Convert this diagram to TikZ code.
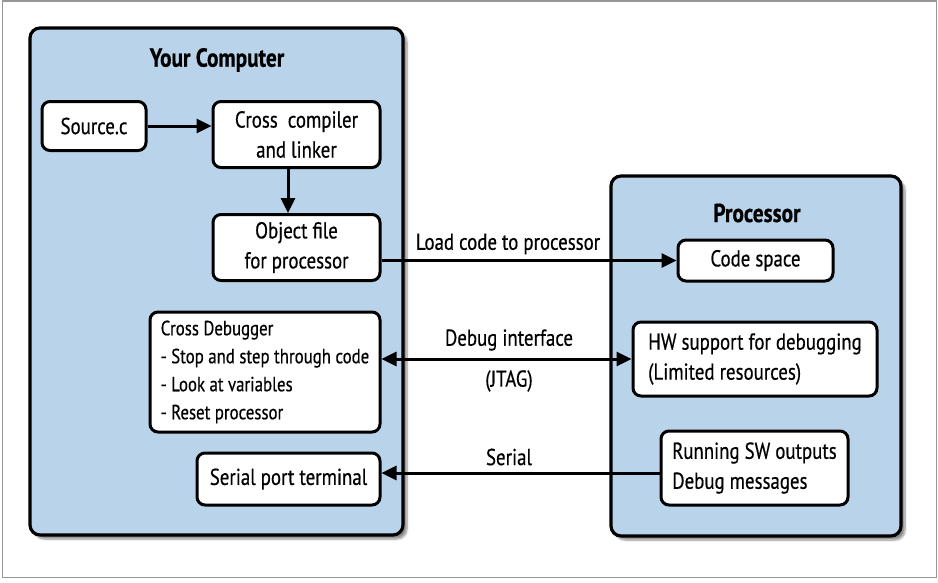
\documentclass[tikz,border=0pt]{standalone}
\usepackage{fontspec}
\setmainfont{PT Sans}[FakeStretch=0.82,FakeBold=0.5]
\usetikzlibrary{arrows.meta,shadows.blur}
\definecolor{panelblue}{RGB}{185,212,234}
\definecolor{framegray}{RGB}{150,150,150}
\begin{document}
\begin{tikzpicture}[x=1pt,y=-1pt,
  font=\fontsize{23}{30}\selectfont,
  panel/.style={draw=black,line width=3.2pt,rounded corners=10pt,fill=panelblue,
    blur shadow={shadow xshift=4pt,shadow yshift=-4pt,shadow blur steps=8,shadow opacity=45}},
  box/.style={draw=black,line width=3pt,rounded corners=8pt,fill=white,inner sep=0pt,align=center},
  arr/.style={line width=3pt,-{Triangle[length=15pt,width=14pt]}},
  darr/.style={line width=3pt,{Triangle[length=15pt,width=14pt]}-{Triangle[length=15pt,width=14pt]}},
  title/.style={font=\fontsize{26}{30}\selectfont\bfseries},
  lbl/.style={inner sep=0pt}]
\useasboundingbox (0,0) rectangle (938,582);
\draw[framegray,line width=1.2pt] (2.5,1) rectangle (936.5,577.5);

% panels
\node[panel,minimum width=373pt,minimum height=507pt] (left) at (216.5,281.5) {};
\node[panel,minimum width=290pt,minimum height=360pt] (right) at (756,356) {};

\node[title] (ytitle) at (217,60) {Your Computer};
\node[title] (ptitle) at (757,213) {Processor};

% left boxes
\node[box,minimum width=104pt,minimum height=49pt] (source) at (94,126) {Source.c};
\node[box,minimum width=167pt,minimum height=66pt] (cross) at (296.5,134.5) {Cross\ \ compiler\\and linker};
\node[box,minimum width=167pt,minimum height=66pt] (obj) at (296.5,247.5) {Object file\\for processor};
\node[box,minimum width=230pt,minimum height=120pt,align=left,font=\fontsize{20.5}{28}\selectfont] (dbg) at (265,372) {Cross Debugger\\- Stop and step through code\\- Look at variables\\- Reset processor};
\node[box,minimum width=183pt,minimum height=52pt] (serial) at (288.5,479) {Serial port terminal};

% right boxes
\node[box,minimum width=155pt,minimum height=41pt] (code) at (755.5,260.5) {Code space};
\node[box,minimum width=244pt,minimum height=74pt,align=left] (hw) at (755,359) {HW support for debugging\\(Limited resources)};
\node[box,minimum width=187pt,minimum height=74pt,align=left] (run) at (754.5,468) {Running SW outputs\\Debug messages};

% connectors
\draw[arr] (source.east |- 0,126) -- (cross.west |- 0,126);
\draw[arr] ([xshift=-8.5pt]cross.south) -- ([xshift=-8.5pt]obj.north);
\draw[arr] (obj.east |- code.west) -- (code.west);
\draw[darr] (dbg.east |- hw.west) -- (hw.west);
\draw[arr] (run.west |- 0,473) -- (serial.east |- 0,473);

% labels
\node[lbl] (lload) at (508,244) {Load code to processor};
\node[lbl] (ldbg) at (509,340) {Debug interface};
\node[lbl] (ljtag) at (509,381) {(JTAG)};
\node[lbl] (lser) at (509,457) {Serial};
\end{tikzpicture}
\end{document}
